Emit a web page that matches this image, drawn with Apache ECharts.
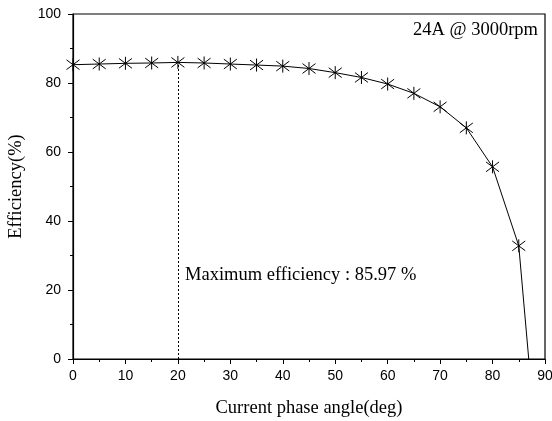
<!DOCTYPE html>
<html>
<head>
<meta charset="utf-8">
<script src="https://cdn.jsdelivr.net/npm/echarts@6/dist/echarts.min.js"></script>
<style>
html,body{margin:0;padding:0;background:#fff;}
#chart{width:552px;height:421px;}
</style>
</head>
<body>
<div id="chart"></div>
<script>
var angles = [0, 5, 10, 15, 20, 25, 30, 35, 40, 45, 50, 55, 60, 65, 70, 75, 80, 85, 86.9];
var efficiency = [85.3, 85.5, 85.7, 85.8, 85.97, 85.8, 85.5, 85.2, 84.9, 84.2, 83.0, 81.6, 79.7, 77.0, 73.1, 67.0, 55.7, 32.8, 0];
var markerShown = [1,1,1,1,1,1,1,1,1,1,1,1,1,1,1,1,1,1,0];
var xTicks = [0, 10, 20, 30, 40, 50, 60, 70, 80, 90];
var yTicks = [0, 20, 40, 60, 80, 100];
var maxAngle = 20, maxEff = 85.97;

var chart = echarts.init(document.getElementById('chart'), null, {renderer: 'canvas'});
var star = 'path://M0,-1L0,1M-0.95,-0.75L0.95,0.75M-0.95,0.75L0.95,-0.75';
var data = angles.map(function (a, i) {
  var item = {value: [a, efficiency[i]]};
  if (!markerShown[i]) item.symbol = 'none';
  return item;
});
var sansFont = 'Liberation Sans, Arial, sans-serif';
var serifFont = 'Liberation Serif, Times New Roman, serif';
chart.setOption({
  animation: false,
  backgroundColor: '#fff',
  grid: {left: 73, right: 7, top: 14, bottom: 62, containLabel: false, outerBoundsMode: 'none',
    show: true, borderColor: '#000', borderWidth: 1.2, backgroundColor: 'transparent'},
  xAxis: {
    type: 'value', min: 0, max: 90, interval: 10,
    name: 'Current phase angle(deg)', nameLocation: 'middle', nameGap: 40,
    nameTextStyle: {fontFamily: serifFont, fontSize: 18.5, color: '#000'},
    axisLine: {show: true, onZero: false, lineStyle: {color: '#000', width: 1.2}},
    axisTick: {show: true, inside: false, length: 5, lineStyle: {color: '#000', width: 1}},
    minorTick: {show: true, splitNumber: 2, length: 3, lineStyle: {color: '#000', width: 1}},
    axisLabel: {fontFamily: sansFont, fontSize: 14, color: '#000', margin: 10,
      formatter: function (v) { return xTicks.indexOf(v) >= 0 ? String(v) : ''; }},
    splitLine: {show: false}
  },
  yAxis: {
    type: 'value', min: 0, max: 100, interval: 20,
    name: 'Efficiency(%)', nameLocation: 'middle', nameGap: 47,
    nameTextStyle: {fontFamily: serifFont, fontSize: 18.5, color: '#000'},
    axisLine: {show: true, onZero: false, lineStyle: {color: '#000', width: 1.2}},
    axisTick: {show: true, inside: false, length: 5, lineStyle: {color: '#000', width: 1}},
    minorTick: {show: true, splitNumber: 2, length: 3, lineStyle: {color: '#000', width: 1}},
    axisLabel: {fontFamily: sansFont, fontSize: 14, color: '#000', margin: 12,
      formatter: function (v) { return yTicks.indexOf(v) >= 0 ? String(v) : ''; }},
    splitLine: {show: false}
  },
  series: [{
    type: 'line',
    data: data,
    symbol: star,
    symbolSize: 13,
    showAllSymbol: true,
    itemStyle: {color: 'none', borderColor: '#000', borderWidth: 1},
    lineStyle: {color: '#000', width: 1},
    z: 3,
    markLine: {
      silent: true,
      symbol: ['none', 'none'],
      label: {show: false},
      lineStyle: {color: '#000', type: [2, 2], width: 1},
      data: [[{coord: [maxAngle, 0]}, {coord: [maxAngle, maxEff]}]]
    }
  }],
  graphic: [
    {type: 'text', left: 185, top: 266, style: {text: 'Maximum efficiency : 85.97 %', font: '18.5px ' + serifFont, fill: '#000'}},
    {type: 'text', right: 14, top: 21, style: {text: '24A @ 3000rpm', font: '18.5px ' + serifFont, fill: '#000'}}
  ]
});
</script>
</body>
</html>
